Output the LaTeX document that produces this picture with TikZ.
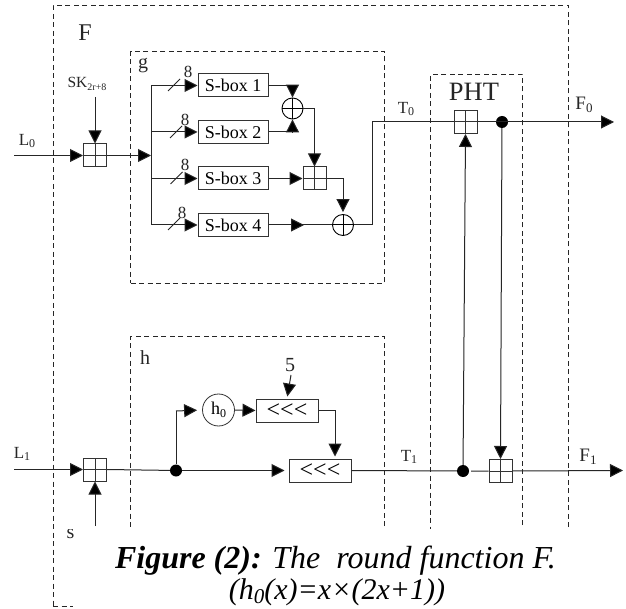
\documentclass[tikz,border=0pt]{standalone}
\usepackage{fontspec}
\setmainfont{Liberation Serif}
\usetikzlibrary{arrows.meta,calc}
\newcommand{\fsz}[1]{\fontsize{#1}{#1}\selectfont}
\newcommand{\rotsym}{\raisebox{-4pt}{\fsz{24}<{}<{}<}}
\tikzset{
  wire/.style={line width=1pt,draw=black!85},
  arr/.style={wire,-{Triangle[length=13pt,width=13pt,fill=black]}},
  dashbox/.style={draw=black!85,line width=1pt,dash pattern=on 5pt off 3.5pt},
  adder/.style={draw=black!80,line width=1pt,fill=white,rectangle,minimum size=23pt,inner sep=0pt,
    path picture={\draw[line width=1pt,black!80] (path picture bounding box.north)--(path picture bounding box.south)
      (path picture bounding box.west)--(path picture bounding box.east);}},
  xorgate/.style={draw=black,line width=0.9pt,circle,minimum size=21pt,inner sep=0pt,
    path picture={\draw[line width=1pt] (path picture bounding box.north)--(path picture bounding box.south)
      (path picture bounding box.west)--(path picture bounding box.east);}},
  sbox/.style={draw=black!80,line width=1pt,fill=white,rectangle,minimum width=70pt,minimum height=23pt,inner sep=0pt,font=\fsz{18}},
  rotbox/.style={draw=black!80,line width=1pt,fill=white,rectangle,minimum width=62pt,minimum height=23pt,inner sep=0pt},
  dot/.style={fill=black,circle,minimum size=12pt,inner sep=0pt},
  lbl/.style={inner sep=0pt,text=black!85},
}
\begin{document}
\begin{tikzpicture}[x=1pt,y=-1pt]
\useasboundingbox (0,0) rectangle (626,609);
\fill[white] (0,0) rectangle (626,609);
% dashed frames
\node[dashbox,rectangle,minimum width=515.5pt,minimum height=601pt,inner sep=0pt,anchor=north west] (outer) at (52.5,5) {};
\node[dashbox,rectangle,minimum width=254pt,minimum height=232pt,inner sep=0pt,anchor=north west] (gbox) at (130,51) {};
\node[dashbox,rectangle,minimum width=254pt,minimum height=250pt,inner sep=0pt,anchor=north west] (hbox) at (130,336) {};
\node[dashbox,rectangle,minimum width=92pt,minimum height=520pt,inner sep=0pt,anchor=north west] (phtbox) at (430,74) {};
% components
\node[adder] (a0) at (95,155.5) {};
\node[adder] (a1) at (95,469.5) {};
\node[sbox] (s1) at (233,85.5) {S-box 1};
\node[sbox] (s2) at (233,132) {S-box 2};
\node[sbox] (s3) at (233,178.5) {S-box 3};
\node[sbox] (s4) at (233,225) {S-box 4};
\node[xorgate] (x1) at (292.5,108.5) {};
\node[xorgate] (x2) at (343,225) {};
\node[adder] (a2) at (314.5,178.5) {};
\node[adder] (a3) at (465.5,122) {};
\node[dot] (d0) at (502,122) {};
\node[adder] (a4) at (500.5,471) {};
\node[dot] (d1) at (463,471) {};
\node[dot] (d2) at (176,470.5) {};
\node[draw=black!80,line width=0.8pt,circle,minimum size=32pt,inner sep=0pt,font=\fsz{18}] (h0) at (218.5,410) {h\raisebox{-2.5pt}{\fsz{12}0}};
\node[rotbox] (r1) at (287,410.5) {\rotsym};
\node[rotbox] (r2) at (320,470.5) {\rotsym};
% free-end coordinates
\coordinate (inL0) at (14,155.5);
\coordinate (inL1) at (14,469.5);
\coordinate (sk) at (95,97);
\coordinate (sk1) at (95,526);
\coordinate (bus) at (151,155.5);
\coordinate (bust) at (151,85.5);
\coordinate (busb) at (151,225);
\coordinate (b2) at (151,132);
\coordinate (b3) at (151,178.5);
\coordinate (j6) at (372,122);
\coordinate (outF0) at (614,122);
\coordinate (outF1) at (623,470.5);
\coordinate (up) at (176,411);
\coordinate (five) at (291,375);
\coordinate (j7) at (335,456.5);
\coordinate (mid) at (304,225);
% wires
\draw[arr] (inL0) -- (a0.west);
\draw[arr] (inL1) -- (a1.west);
\draw[arr] (sk) -- (a0.north);
\draw[arr] (sk1) -- (a1.south);
\draw[arr] (a0.east) -- (bus);
\draw[wire] (bust) -- (busb);
\draw[arr] (bust) -- (s1.west);
\draw[arr] (b2) -- (s2.west);
\draw[arr] (b3) -- (s3.west);
\draw[arr] (busb) -- (s4.west);
\draw[arr] (s1.east) -| (x1.north);
\draw[arr] (s2.east) -| (x1.south);
\draw[arr] (x1.east) -| (a2.north);
\draw[arr] (s3.east) -- (a2.west);
\draw[arr,shorten >=2pt] (a2.east) -| (x2.north);
\draw[wire] (s4.east) -- (x2.west);
\draw[arr] (s4.east) -- (mid);
\draw[wire] (x2.east) -| (j6) -- (a3.west);
\draw[arr] (a3.east) -- (outF0);
\draw[arr] (d0) -- (a4.north);
\draw[arr] (d1) -- (a3.south);
\draw[arr,shorten >=4pt] (d2) -- (r2.west);
\draw[wire] (d2) -- (up);
\draw[arr,shorten >=5pt] (up) -- (h0.west);
\draw[arr] (h0.east) -- (r1.west);
\draw[arr,shorten >=2pt] (five) -- (r1.north);
\draw[arr] (r1.east) -| (j7);
\draw[wire] (a1.east) -- (d2);
\draw[wire,shorten <=2pt] (r2.east) -- (d1) -- (a4.west);
\draw[arr] (a4.east) -- (outF1);
% width ticks
\foreach \n/\xa/\ya in {t1/174/85,t2/176/132,t3/176.5/178,t4/174/224}{
  \coordinate (\n a) at (\xa-6,\ya+6);
  \coordinate (\n b) at (\xa+6,\ya-6);
  \draw[line width=0.9pt,black!85] (\n a) -- (\n b);
}
% mask below the diagram
\fill[white] (73,529) rectangle (626,609);
% labels
\node[lbl,font=\fsz{24}] (tF) at (85,33) {F};
\node[lbl,font=\fsz{20}] (tg) at (143,66) {g};
\node[lbl,font=\fsz{20}] (th) at (145,358) {h};
\node[lbl,font=\fsz{15.5}] (tsk) at (87,84) {SK\raisebox{-3pt}{\fsz{10}2r+8}};
\node[lbl,font=\fsz{17}] (tL0) at (27,141) {L\raisebox{-2.5pt}{\fsz{12}0}};
\node[lbl,font=\fsz{17}] (tL1) at (22,454) {L\raisebox{-2.5pt}{\fsz{12}1}};
\node[lbl,font=\fsz{17}] (tT0) at (406,109) {T\raisebox{-2.5pt}{\fsz{12}0}};
\node[lbl,font=\fsz{17}] (tT1) at (409,457) {T\raisebox{-2.5pt}{\fsz{12}1}};
\node[lbl,font=\fsz{19}] (tF0) at (584,105) {F\raisebox{-2.5pt}{\fsz{13}0}};
\node[lbl,font=\fsz{19}] (tF1) at (588,457) {F\raisebox{-2.5pt}{\fsz{13}1}};
\node[lbl,font=\fsz{26.5}] (tP) at (474,92) {PHT};
\node[lbl,font=\fsz{17}] (t81) at (188,72) {8};
\node[lbl,font=\fsz{17}] (t82) at (185,120) {8};
\node[lbl,font=\fsz{17}] (t83) at (185,165) {8};
\node[lbl,font=\fsz{17}] (t84) at (182,213) {8};
\node[lbl,font=\fsz{20}] (t5) at (290,365) {5};
\begin{scope}
\clip (0,529) rectangle (74,545);
\node[lbl,font=\fsz{20}] (ts) at (70.5,534) {s};
\end{scope}
\node[lbl,font=\fsz{32},text=black] (cap1) at (335.5,561) {\textbf{\textit{Figure (2):}} \textit{The\ \ round function F.}};
\node[lbl,font=\fsz{30},text=black] (cap2) at (337,592) {\textit{(h\raisebox{-4pt}{\fsz{21}0}(x)=x×(2x+1))}};
\end{tikzpicture}
\end{document}
